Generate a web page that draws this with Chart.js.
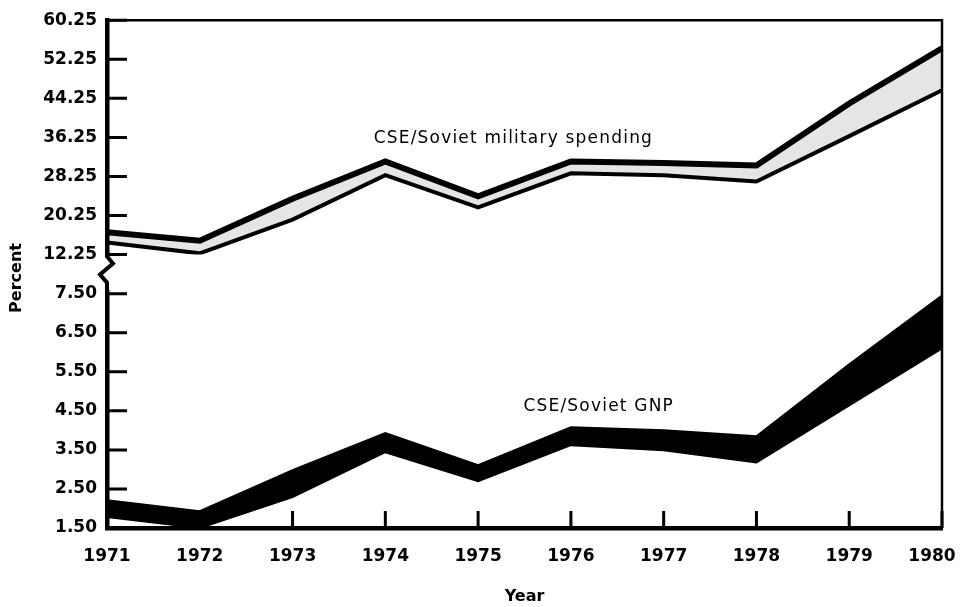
<!DOCTYPE html>
<html>
<head>
<meta charset="utf-8">
<script src="https://cdn.jsdelivr.net/npm/chart.js@4"></script>
<style>
  html, body { margin: 0; padding: 0; background: #fff; }
  #wrap { width: 963px; height: 607px; }
</style>
</head>
<body>
<div id="wrap"><canvas id="shareChart"></canvas></div>
<script>
// values (percent)
const years = ['1971', '1972', '1973', '1974', '1975', '1976', '1977', '1978', '1979', '1980'];
const milHigh = [16.8, 15.1, 23.7, 31.3, 24.2, 31.3, 31.0, 30.5, 43.2, 54.5];
const milLow = [14.7, 12.5, 19.4, 28.5, 21.9, 28.9, 28.5, 27.2, 36.5, 45.9];
const gnpHigh = [2.21, 1.93, 2.98, 3.93, 3.11, 4.08, 4.00, 3.85, 5.69, 7.45];
const gnpLow = [1.78, 1.50, 2.29, 3.44, 2.70, 3.62, 3.49, 3.18, 4.64, 6.10];
const lowTicks = [1.5, 2.5, 3.5, 4.5, 5.5, 6.5, 7.5];
const highTicks = [12.25, 20.25, 28.25, 36.25, 44.25, 52.25, 60.25];

const tickFont = { family: 'DejaVu Sans', size: 17, weight: 'bold' };

// inward tick marks, frame, axis break and the two band labels
const frame = {
    id: 'frame',
    beforeDatasetsDraw(chart) {
        const { ctx, chartArea: a, scales } = chart;
        ctx.save();
        ctx.strokeStyle = '#000';
        ctx.lineWidth = 3;
        ctx.beginPath();
        [scales.yLow, scales.yHigh].forEach(s => s.ticks.forEach(t => {
            const y = s.getPixelForValue(t.value);
            ctx.moveTo(a.left, y);
            ctx.lineTo(a.left + 20, y);
        }));
        years.forEach((_, i) => {
            const x = scales.x.getPixelForValue(i);
            ctx.moveTo(x, a.bottom);
            ctx.lineTo(x, a.bottom - 17);
        });
        ctx.stroke();
        ctx.restore();
    },
    afterDraw(chart) {
        const { ctx, chartArea: a, scales } = chart;
        ctx.save();
        ctx.strokeStyle = '#000';

        // top and right edges
        ctx.lineWidth = 2.5;
        ctx.beginPath();
        ctx.moveTo(a.left, a.top);
        ctx.lineTo(a.right, a.top);
        ctx.lineTo(a.right, a.bottom);
        ctx.stroke();

        // zigzag break between 7.50 and 12.25
        const yTop = scales.yHigh.getPixelForValue(12.25);
        const yBot = scales.yLow.getPixelForValue(7.5);
        ctx.fillStyle = '#fff';
        ctx.fillRect(a.left - 4, yTop + 2, 8, yBot - yTop - 6);
        ctx.lineWidth = 4;
        ctx.lineJoin = 'miter';
        ctx.beginPath();
        ctx.moveTo(a.left, yTop);
        ctx.lineTo(a.left, yTop + 2);
        ctx.lineTo(a.left + 6, yTop + 9);
        ctx.lineTo(a.left - 7, yTop + 20);
        ctx.lineTo(a.left, yTop + 28);
        ctx.lineTo(a.left, yBot);
        ctx.stroke();

        // band labels
        ctx.fillStyle = '#000';
        ctx.font = '17px "DejaVu Sans"';
        ctx.letterSpacing = '1.2px';
        ctx.textAlign = 'center';
        ctx.textBaseline = 'middle';
        ctx.fillText('CSE/Soviet military spending', scales.x.getPixelForValue(4.38), scales.yHigh.getPixelForValue(36.1));
        ctx.fillText('CSE/Soviet GNP', scales.x.getPixelForValue(5.3), scales.yLow.getPixelForValue(4.61));

        // y axis title
        ctx.letterSpacing = '0px';
        ctx.font = 'bold 16px "DejaVu Sans"';
        ctx.translate(17, 278);
        ctx.rotate(-Math.PI / 2);
        ctx.fillText('Percent', 0, 0);
        ctx.restore();
    }
};

document.addEventListener('DOMContentLoaded', function () {
    const ctx = document.getElementById('shareChart').getContext('2d');

    const yAxis = (ticks, min, max, weight) => ({
        type: 'linear',
        position: 'left',
        stack: 'pct',
        stackWeight: weight,
        min: min,
        max: max,
        grid: { display: false, drawTicks: false },
        border: { display: true, color: '#000', width: 4.5 },
        ticks: {
            color: '#000',
            font: tickFont,
            padding: 10,
            autoSkip: false,
            callback: v => v.toFixed(2)
        },
        afterBuildTicks(s) { s.ticks = ticks.map(v => ({ value: v })); },
        afterFit(s) { s.width = 107; }
    });

    new Chart(ctx, {
        type: 'line',
        data: {
            labels: years,
            datasets: [
                {
                    label: 'Military spending (high)',
                    data: milHigh,
                    yAxisID: 'yHigh',
                    borderColor: '#000',
                    borderWidth: 6,
                    backgroundColor: 'rgba(0,0,0,0.10)',
                    fill: '+1'
                },
                {
                    label: 'Military spending (low)',
                    data: milLow,
                    yAxisID: 'yHigh',
                    borderColor: '#000',
                    borderWidth: 4,
                    fill: false
                },
                {
                    label: 'GNP (high)',
                    data: gnpHigh,
                    yAxisID: 'yLow',
                    borderColor: '#000',
                    borderWidth: 2,
                    backgroundColor: '#000',
                    fill: '+1'
                },
                {
                    label: 'GNP (low)',
                    data: gnpLow,
                    yAxisID: 'yLow',
                    borderColor: '#000',
                    borderWidth: 2,
                    fill: false
                }
            ]
        },
        options: {
            responsive: true,
            maintainAspectRatio: false,
            animation: false,
            layout: { padding: { top: 19, right: 21, bottom: 0, left: 0 } },
            elements: {
                point: { radius: 0 },
                line: { tension: 0, borderJoinStyle: 'miter' }
            },
            plugins: {
                legend: { display: false },
                tooltip: { enabled: false }
            },
            scales: {
                x: {
                    type: 'category',
                    offset: false,
                    grid: { display: false, drawTicks: false },
                    border: { display: true, color: '#000', width: 4.5 },
                    ticks: { color: '#000', font: tickFont, padding: 18, maxRotation: 0, autoSkip: false },
                    title: {
                        display: true,
                        text: 'Year',
                        color: '#000',
                        font: { family: 'DejaVu Sans', size: 16, weight: 'bold' },
                        padding: { top: 4, bottom: 1 }
                    },
                    afterFit(s) { s.height = 79; s.paddingLeft = 0; s.paddingRight = 0; },
                    afterUpdate(s) {
                        // pull the last year label in so it is not cut at the canvas edge
                        const compute = s._computeLabelItems;
                        s._computeLabelItems = function (area) {
                            const items = compute.call(this, area);
                            const last = items[items.length - 1];
                            if (last) last.options.translation[0] -= 10;
                            return items;
                        };
                    }
                },
                // first stacked axis goes to the bottom
                yLow: yAxis(lowTicks, 1.5, 8.5, 7),
                yHigh: yAxis(highTicks, 12.25, 60.25, 6)
            }
        },
        plugins: [frame]
    });
});
</script>
</body>
</html>
